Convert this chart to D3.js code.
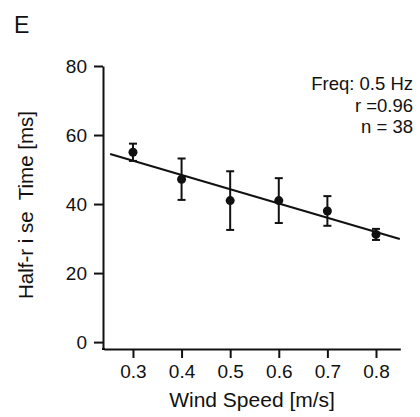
<!DOCTYPE html>
<html>
<head>
<meta charset="utf-8">
<script src="https://cdn.jsdelivr.net/npm/d3@7"></script>
<style>
  body { margin: 0; background: #fff; }
  svg text { font-family: "Liberation Sans", Arial, sans-serif; fill: #111; }
</style>
</head>
<body>
<svg id="chart" width="420" height="417"></svg>
<script>
// data
var windSpeed = [0.3, 0.4, 0.5, 0.6, 0.7, 0.8];
var riseTime  = [55.0, 47.2, 41.0, 41.0, 38.0, 31.2];
var riseErr   = [2.5, 6.0, 8.5, 6.5, 4.3, 1.6];
var fitLine   = { intercept: 65.0, slope: -41.4, from: 0.253, to: 0.849 };
var xTicks = [0.3, 0.4, 0.5, 0.6, 0.7, 0.8];
var yTicks = [0, 20, 40, 60, 80];
var notes  = ['Freq: 0.5 Hz', 'r =0.96', 'n = 38'];

var svg = d3.select('#chart');

var xScale = d3.scaleLinear().domain([0.24, 0.85]).range([103.8, 400.3]);
var yScale = d3.scaleLinear().domain([-2, 80]).range([349, 66]);

// axes
var xAxis = svg.append('g')
  .attr('transform', 'translate(0,349)')
  .call(d3.axisBottom(xScale).tickValues(xTicks).tickFormat(d3.format('.1f'))
    .tickSize(9).tickSizeOuter(0).tickPadding(7));

var yAxis = svg.append('g')
  .attr('transform', 'translate(103,0)')
  .call(d3.axisLeft(yScale).tickValues(yTicks).tickSize(9).tickSizeOuter(0).tickPadding(7));

[xAxis, yAxis].forEach(function (ax) {
  ax.select('.domain').attr('stroke', '#111').attr('stroke-width', 2);
  ax.selectAll('.tick line').attr('stroke', '#111').attr('stroke-width', 2);
  ax.selectAll('.tick text')
    .style('font-size', '19px')
    .style('font-family', '"Liberation Sans", Arial, sans-serif')
    .attr('fill', '#111');
});
// join the two axis lines at the corner
svg.append('line')
  .attr('x1', 102).attr('x2', 105)
  .attr('y1', 349).attr('y2', 349)
  .attr('stroke', '#111').attr('stroke-width', 2);

// regression line
svg.append('line')
  .attr('x1', xScale(fitLine.from))
  .attr('y1', yScale(fitLine.intercept + fitLine.slope * fitLine.from))
  .attr('x2', xScale(fitLine.to))
  .attr('y2', yScale(fitLine.intercept + fitLine.slope * fitLine.to))
  .attr('stroke', '#111')
  .attr('stroke-width', 2);

// error bars
var pts = windSpeed.map(function (x, i) { return { x: x, y: riseTime[i], e: riseErr[i] }; });

var bars = svg.append('g').attr('class', 'errbars')
  .selectAll('g').data(pts).enter().append('g')
  .attr('stroke', '#111').attr('stroke-width', 2);

bars.append('line')
  .attr('x1', function (d) { return xScale(d.x); })
  .attr('x2', function (d) { return xScale(d.x); })
  .attr('y1', function (d) { return yScale(d.y + d.e); })
  .attr('y2', function (d) { return yScale(d.y - d.e); });
bars.append('line')
  .attr('x1', function (d) { return xScale(d.x) - 4; })
  .attr('x2', function (d) { return xScale(d.x) + 4; })
  .attr('y1', function (d) { return yScale(d.y + d.e); })
  .attr('y2', function (d) { return yScale(d.y + d.e); });
bars.append('line')
  .attr('x1', function (d) { return xScale(d.x) - 4; })
  .attr('x2', function (d) { return xScale(d.x) + 4; })
  .attr('y1', function (d) { return yScale(d.y - d.e); })
  .attr('y2', function (d) { return yScale(d.y - d.e); });

// points
svg.append('g').selectAll('circle').data(pts).enter().append('circle')
  .attr('cx', function (d) { return xScale(d.x); })
  .attr('cy', function (d) { return yScale(d.y); })
  .attr('r', 4.5)
  .attr('fill', '#111');

// labels
svg.append('text')
  .attr('x', 14).attr('y', 33)
  .style('font-size', '23px')
  .text('E');

svg.append('text')
  .attr('x', xScale(0.545)).attr('y', 407)
  .attr('text-anchor', 'middle')
  .style('font-size', '21px')
  .text('Wind Speed [m/s]');

svg.append('text')
  .attr('transform', 'translate(33,205) rotate(-90)')
  .attr('text-anchor', 'middle')
  .style('font-size', '20.5px')
  .style('white-space', 'pre')
  .text('Half-r i se  Time [ms]');

svg.append('g').selectAll('text').data(notes).enter().append('text')
  .attr('x', 413)
  .attr('y', function (d, i) { return 90 + i * 21.5; })
  .attr('text-anchor', 'end')
  .style('font-size', '18.5px')
  .text(function (d) { return d; });
</script>
</body>
</html>
